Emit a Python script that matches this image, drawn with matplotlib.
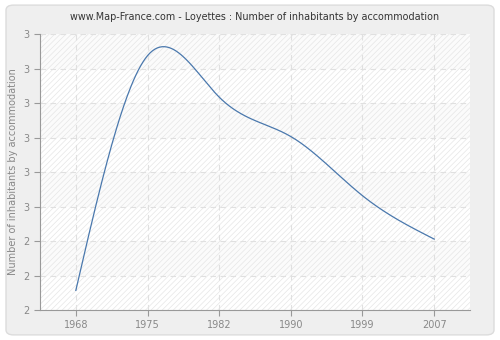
import numpy as np
import matplotlib
matplotlib.use("Agg")
import matplotlib.pyplot as plt
from matplotlib.patches import FancyBboxPatch, Rectangle

years = ["1968", "1975", "1982", "1990", "1999", "2007"]
values = [2.10, 3.29, 3.08, 2.88, 2.58, 2.36]
y_ticks = [2.0, 2.175, 2.35, 2.525, 2.7, 2.875, 3.05, 3.225, 3.4]
y_labels = ["2", "2", "2", "3", "3", "3", "3", "3", "3"]


def natural_spline(x, y, n=300):
    # natural cubic spline drawn through the data points
    x = np.asarray(x, float)
    y = np.asarray(y, float)
    k = len(x)
    h = np.diff(x)
    A = np.zeros((k, k))
    b = np.zeros(k)
    A[0, 0] = A[-1, -1] = 1
    for i in range(1, k - 1):
        A[i, i - 1] = h[i - 1]
        A[i, i] = 2 * (h[i - 1] + h[i])
        A[i, i + 1] = h[i]
        b[i] = 6 * ((y[i + 1] - y[i]) / h[i] - (y[i] - y[i - 1]) / h[i - 1])
    m = np.linalg.solve(A, b)
    xs = np.linspace(x[0], x[-1], n)
    ys = np.empty_like(xs)
    for j, t in enumerate(xs):
        i = min(np.searchsorted(x, t, side="right") - 1, k - 2)
        a = x[i + 1] - t
        c = t - x[i]
        ys[j] = (m[i] * a ** 3 + m[i + 1] * c ** 3) / (6 * h[i]) \
            + (y[i] / h[i] - m[i] * h[i] / 6) * a \
            + (y[i + 1] / h[i] - m[i + 1] * h[i] / 6) * c
    return xs, ys


plt.rcParams["hatch.linewidth"] = 0.5
plt.rcParams["hatch.color"] = "#e6e6e6"

fig = plt.figure(figsize=(5, 3.4), dpi=100)
fig.patch.set_facecolor("white")
fig.patches.append(FancyBboxPatch((0.012, 0.015), 0.976, 0.97,
                                  boxstyle="round,pad=0,rounding_size=0.015",
                                  transform=fig.transFigure, facecolor="#efefef",
                                  edgecolor="#dcdcdc", linewidth=1, zorder=-5))

ax = fig.add_axes([0.08, 0.088, 0.86, 0.812])
ax.set_facecolor("white")
for i in range(len(y_ticks) - 1):
    ax.add_patch(Rectangle((-0.5, y_ticks[i]), 6, y_ticks[i + 1] - y_ticks[i],
                           facecolor="#fbfbfb" if i % 2 else "white",
                           hatch="//////", edgecolor="#e6e6e6", linewidth=0, zorder=0))

xi = np.arange(len(years))
xs, ys = natural_spline(xi, values)
ax.plot(xs, ys, color="#4a78ad", linewidth=0.9, zorder=3)

ax.set_xlim(-0.5, 5.5)
ax.set_ylim(2.0, 3.4)
ax.set_xticks(xi)
ax.set_xticklabels(years)
ax.set_yticks(y_ticks)
ax.set_yticklabels(y_labels)
ax.grid(True, color="#e0e0e0", linestyle=(0, (5, 4)), linewidth=0.8, zorder=1)
ax.set_axisbelow(True)
for s in ["top", "right"]:
    ax.spines[s].set_visible(False)
for s in ["left", "bottom"]:
    ax.spines[s].set_color("#999999")
ax.tick_params(colors="#999999", labelcolor="#888888", labelsize=7, length=4)
ax.set_ylabel("Number of inhabitants by accommodation", fontsize=7, color="#888888")
ax.set_title("www.Map-France.com - Loyettes : Number of inhabitants by accommodation",
             fontsize=6.9, color="#333333", pad=10)

fig.savefig("out.png", dpi=100, facecolor=fig.get_facecolor())
